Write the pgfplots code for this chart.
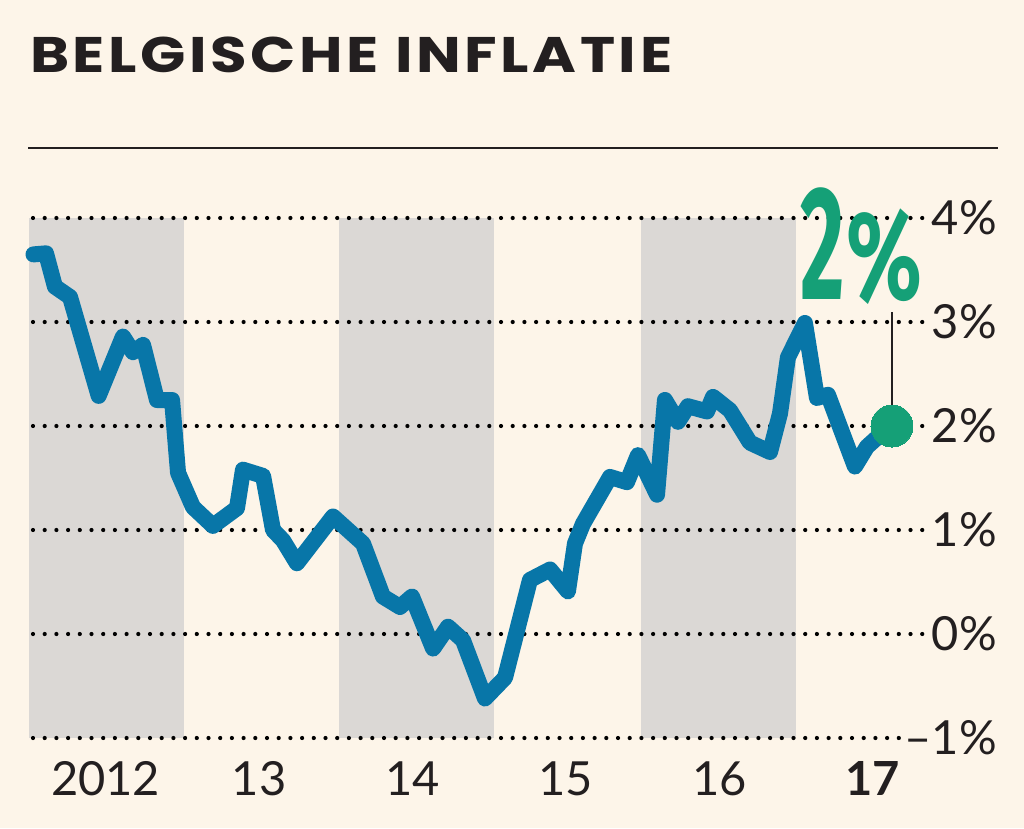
\documentclass[border=0pt]{standalone}
\usepackage{fontspec}
\setmainfont{Lato}
\newfontfamily\titlefont[LetterSpace=6]{Poppins}
\newfontfamily\bigfont{Fira Sans}
\usepackage{xcolor}
\usepackage{pgfplots}
\pgfplotsset{compat=1.18}

\definecolor{bgc}{HTML}{FDF5E9}
\definecolor{band}{HTML}{DBD8D5}
\definecolor{ink}{HTML}{231F20}
\definecolor{lineblue}{HTML}{0876A8}
\definecolor{dotgreen}{HTML}{15A077}
\pagecolor{bgc}

\begin{document}
\begin{tikzpicture}
\node[anchor=base west, inner sep=0pt, text=ink] at (30pt,755pt)
  {\scalebox{1.19}[1]{\fontsize{50}{50}\selectfont\titlefont\bfseries BELGISCHE INFLATIE}};
\draw[ink, line width=2pt] (28pt,680pt) -- (998pt,680pt);

\begin{axis}[
  set layers=standard,
  at={(29pt,90pt)}, anchor=south west,
  scale only axis, width=966pt, height=520pt,
  xmin=0, xmax=75.57, ymin=-1, ymax=4,
  axis line style={draw=none},
  major tick style={draw=none},
  xtick={6,18,30,42,54,66},
  xticklabels={2012,13,14,15,16,\textbf{17}},
  ytick={-1,0,1,2,3,4},
  yticklabels={–1\%,0\%,1\%,2\%,3\%,4\%},
  ymajorgrids,
  grid style={black, line width=4.2pt, line cap=round, dash pattern=on 0pt off 11.7pt, dash phase=-4pt},
  ticklabel style={font=\fontsize{47}{47}\selectfont, text=ink},
  yticklabel pos=right,
  yticklabel style={anchor=east, fill=bgc, inner sep=3pt, xshift=5pt},
  xticklabel style={anchor=base, yshift=-57pt},
  clip=false,
]
% year bands
\addplot[fill=band, draw=none, on layer=axis background] coordinates {(0,-1) (0,4) (12.1,4) (12.1,-1)} -- cycle;
\addplot[fill=band, draw=none, on layer=axis background] coordinates {(24.25,-1) (24.25,4) (36.4,4) (36.4,-1)} -- cycle;
\addplot[fill=band, draw=none, on layer=axis background] coordinates {(47.9,-1) (47.9,4) (60,4) (60,-1)} -- cycle;

% inflation
\addplot[lineblue, line width=16pt, line join=round, line cap=round] coordinates {
  (0.35,3.65) (1.33,3.66) (2.03,3.34) (3.21,3.24) (5.45,2.29) (7.35,2.86)
  (8.13,2.71) (8.92,2.78) (10.01,2.25) (11.19,2.25) (11.66,1.55) (12.83,1.22)
  (14.39,1.04) (16.27,1.21) (16.74,1.58) (18.31,1.52) (19.09,1.00) (19.87,0.90)
  (20.96,0.68) (23.78,1.13) (26.13,0.87) (27.69,0.36) (29.02,0.26) (29.96,0.36)
  (31.61,-0.14) (32.78,0.07) (33.95,-0.06) (35.67,-0.62) (37.24,-0.42) (39.19,0.52)
  (40.76,0.62) (42.16,0.41) (42.71,0.87) (43.34,1.06) (45.45,1.51) (46.78,1.46)
  (47.64,1.72) (49.13,1.34) (49.75,2.25) (50.77,2.04) (51.55,2.19) (53.04,2.14)
  (53.51,2.28) (54.84,2.15) (56.40,1.84) (57.97,1.75) (58.75,2.12) (59.37,2.66)
  (60.70,2.99) (61.64,2.27) (62.50,2.30) (64.61,1.61) (65.55,1.80) (66.72,1.93)
  (67.51,2.00)
};
% connector and last value
\addplot[ink, line width=1.5pt] coordinates {(67.51,2.0) (67.51,3.1)};
\addplot[dotgreen, only marks, mark=*, mark size=21pt, mark options={fill=dotgreen, draw=dotgreen, line width=0pt}] coordinates {(67.51,2.0)};
\end{axis}

\node[anchor=base west, inner sep=0pt, text=dotgreen] at (800pt,528pt)
  {\bigfont\bfseries\scalebox{0.53}[1]{\fontsize{162}{162}\selectfont 2}\hspace{2pt}\scalebox{0.7}[1]{\fontsize{126}{126}\selectfont\%}};

\pgfresetboundingbox
\useasboundingbox (0pt,0pt) rectangle (1024pt,828pt);
\end{tikzpicture}
\end{document}
